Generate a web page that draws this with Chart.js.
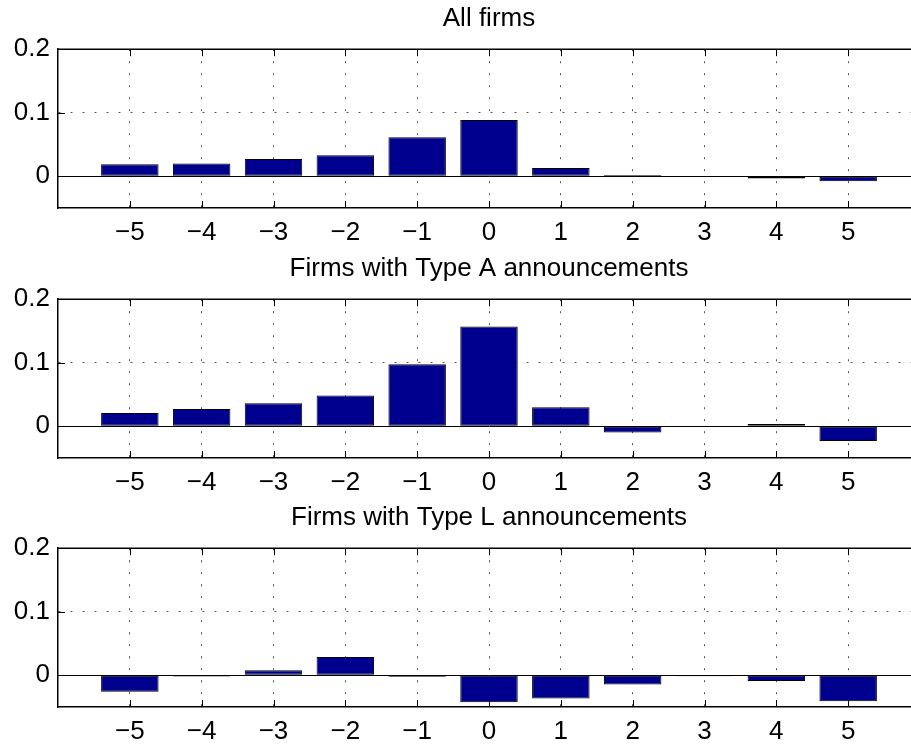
<!DOCTYPE html>
<html>
<head>
<meta charset="utf-8">
<title>Event window bars</title>
<script src="https://cdn.jsdelivr.net/npm/chart.js@4"></script>
<style>
html, body { margin: 0; padding: 0; overflow: hidden; background: #fff; }
.panel { position: absolute; left: 0; }
canvas { display: block; }
</style>
</head>
<body>
<div class="panel" style="top:0"><canvas id="c1" width="920" height="250"></canvas></div>
<div class="panel" style="top:250px"><canvas id="c2" width="920" height="250"></canvas></div>
<div class="panel" style="top:499px"><canvas id="c3" width="920" height="250"></canvas></div>
<script>
// event days and the three series
const days = [-5, -4, -3, -2, -1, 0, 1, 2, 3, 4, 5];
const allFirms = [0.019, 0.020, 0.027, 0.033, 0.0615, 0.0885, 0.013, 0.002, -0.0005, -0.0035, -0.0078];
const typeA = [0.021, 0.027, 0.036, 0.0485, 0.0975, 0.157, 0.030, -0.0099, -0.0008, 0.0036, -0.0234];
const typeL = [-0.026, -0.002, 0.0078, 0.0287, -0.0025, -0.0427, -0.0365, -0.0146, -0.0015, -0.0089, -0.0411];
const titles = ['All firms', 'Firms with Type A announcements', 'Firms with Type L announcements'];
const yTicks = [0, 0.1, 0.2];

Chart.defaults.font.family = "'Liberation Sans', Arial, Helvetica, sans-serif";
Chart.defaults.color = '#000';

// top edge of the box + inward tick marks
const frame = {
    id: 'frame',
    afterDatasetsDraw(chart){
        const {ctx, chartArea: a, scales: {x, y}} = chart;
        ctx.save();
        ctx.strokeStyle = '#000';
        ctx.lineWidth = 1.5;
        ctx.beginPath();
        ctx.moveTo(a.left, a.top);
        ctx.lineTo(a.right, a.top);
        ctx.stroke();
        ctx.lineWidth = 1;
        ctx.beginPath();
        days.forEach(d => {
            const px = Math.round(x.getPixelForValue(d)) + 0.5;
            ctx.moveTo(px, a.bottom); ctx.lineTo(px, a.bottom - 7);
            ctx.moveTo(px, a.top); ctx.lineTo(px, a.top + 7);
        });
        yTicks.forEach(v => {
            const py = Math.round(y.getPixelForValue(v)) + 0.5;
            ctx.moveTo(a.left, py); ctx.lineTo(a.left + 7, py);
        });
        ctx.stroke();
        ctx.restore();
    }
};

function solidAt(ctx){
    return ctx.tick && (ctx.tick.value === 0 || ctx.tick.value === 0.2);
}

function makeChart(id, title, vals){
    return new Chart(document.getElementById(id), {
        type: 'bar',
        data: {
            datasets: [{
                data: days.map((d, i) => ({x: d, y: vals[i]})),
                backgroundColor: '#00008F',
                borderColor: '#000',
                borderWidth: 1,
                borderSkipped: false,
                categoryPercentage: 1,
                barPercentage: 0.8
            }]
        },
        plugins: [frame],
        options: {
            responsive: false,
            animation: false,
            layout: {padding: 0},
            plugins: {
                legend: {display: false},
                tooltip: {enabled: false},
                title: {
                    display: true,
                    text: title,
                    fullSize: false,
                    font: {size: 26, weight: 'normal'},
                    padding: {top: 3, bottom: 15}
                }
            },
            scales: {
                x: {
                    type: 'linear',
                    offset: false,
                    min: -6,
                    max: 6,
                    afterBuildTicks: s => { s.ticks = days.map(v => ({value: v})); },
                    afterFit: s => { s.height = 42; },
                    ticks: {
                        font: {size: 26},
                        padding: 9,
                        maxRotation: 0,
                        autoSkip: false,
                        callback: v => v < 0 ? '\u2212' + Math.abs(v) : String(v)
                    },
                    grid: {color: '#555', drawTicks: false, offset: false},
                    border: {color: '#000', width: 1.5, dash: [2, 10]}
                },
                y: {
                    min: -0.05,
                    max: 0.2,
                    afterBuildTicks: s => { s.ticks = yTicks.map(v => ({value: v})); },
                    afterFit: s => { s.width = 58; },
                    ticks: {
                        font: {size: 26},
                        padding: 8,
                        callback: v => v === 0 ? '0' : v.toFixed(1)
                    },
                    grid: {
                        drawTicks: false,
                        color: ctx => solidAt(ctx) ? '#000' : '#555'
                    },
                    border: {
                        color: '#000',
                        width: 1.5,
                        dash: ctx => solidAt(ctx) ? [] : [2, 10]
                    }
                }
            }
        }
    });
}

makeChart('c1', titles[0], allFirms);
makeChart('c2', titles[1], typeA);
makeChart('c3', titles[2], typeL);
</script>
</body>
</html>
